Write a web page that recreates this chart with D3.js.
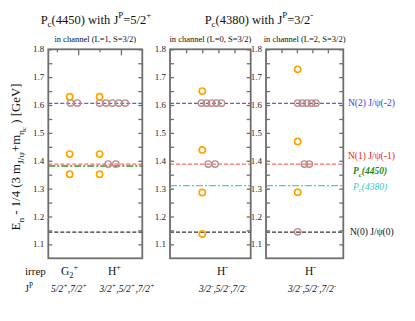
<!DOCTYPE html>
<html><head><meta charset="utf-8">
<script src="https://cdn.jsdelivr.net/npm/d3@7"></script>
<style>body{margin:0;background:#fff}svg{display:block}</style>
</head><body>
<svg id="c" width="415" height="321"></svg>
<script>
// ---- data ----
const yTickValues = [1.1, 1.2, 1.3, 1.4, 1.5, 1.6, 1.7, 1.8];
const refNames = ["N(2) J/ψ(-2)", "N(1) J/ψ(-1)", "Pc(4450)", "Pc(4380)", "N(0) J/ψ(0)"];
const refValues = [1.606, 1.388, 1.381, 1.311, 1.144];
// which panels each reference line spans
const refPanels = [[0,1,2],[0,1,2],[0],[1,2],[0,1,2]];
// panel 1: G2+ at x=0.8, H+ at x=1.5..2.1
const orange1 = [[0.8,1.630],[0.8,1.424],[0.8,1.352],[1.5,1.630],[1.5,1.424],[1.5,1.352]];
const brown1 = [[0.82,1.607],[0.98,1.607],[1.5,1.607],[1.65,1.607],[1.8,1.607],[1.95,1.607],[2.1,1.607],[1.7,1.388],[1.88,1.388]];
// panel 2: H- (L=0)
const orange2 = [[2.0,1.650],[2.0,1.439],[2.0,1.286],[2.0,1.137]];
const brown2 = [[1.95,1.607],[2.26,1.607],[2.57,1.607],[2.88,1.607],[3.19,1.607],[2.37,1.388],[2.79,1.388]];
// panel 3: H- (L=2)
const orange3 = [[2.05,1.728],[2.05,1.469],[2.05,1.287]];
const brown3 = [[2.05,1.607],[2.35,1.607],[2.65,1.607],[2.95,1.607],[3.23,1.607],[2.48,1.388],[2.8,1.388],[2.05,1.145]];
const subtitles = ["in channel (L=1, S=3/2)", "in channel (L=0, S=3/2)", "in channel (L=2, S=3/2)"];

// ---- layout ----
const svg = d3.select("#c");
const serif = "'Liberation Serif','DejaVu Serif',serif";
const y = d3.scaleLinear().domain([1.05, 1.8]).range([258.3, 49.3]);
const panels = [
  {range:[48.3,142.3], domain:[0.3,2.5], major:[1,2], minor:[0.5,1.5], orange:orange1, brown:brown1},
  {range:[170,250.7], domain:[0,5], major:[2,4], minor:[1,3], orange:orange2, brown:brown2},
  {range:[266,343.3], domain:[0,5], major:[2,4], minor:[1,3], orange:orange3, brown:brown3}
];
const refStyles = [
  {color:"#5a5aff", dash:"4,2", w:1.3},
  {color:"#ff6a6a", dash:"4,2", w:1.3},
  {color:"#2a9a2a", dash:"7,2,2,2", w:1.5},
  {color:"#3cd6c6", dash:"7,2,2,2", w:1.2},
  {color:"#333", dash:"4,2", w:1.1}
];

function rich(sel, parts, size) {
  let cur = 0;
  parts.forEach(([t, m, style]) => {
    let target = 0, fs = size;
    if (m === "sub") { target = size*0.3; fs = size*0.72; }
    if (m === "sup") { target = -size*0.42; fs = size*0.72; }
    if (m === "subsub") { target = size*0.5; fs = size*0.55; }
    const ts = sel.append("tspan").attr("dy", target - cur).attr("font-size", fs).text(t);
    if (style) ts.attr("font-style", style);
    cur = target;
  });
}

panels.forEach((p, i) => {
  const x = d3.scaleLinear().domain(p.domain).range(p.range);
  const g = svg.append("g");
  refValues.forEach((v, k) => {
    if (!refPanels[k].includes(i)) return;
    const s = refStyles[k];
    g.append("line").attr("x1", p.range[0]).attr("x2", p.range[1])
      .attr("y1", y(v)).attr("y2", y(v))
      .attr("stroke", s.color).attr("stroke-width", s.w).attr("stroke-dasharray", s.dash);
  });
  const fc = "#6e6e6e";
  g.append("rect").attr("x", p.range[0]).attr("y", y(1.8))
    .attr("width", p.range[1]-p.range[0]).attr("height", y(1.05)-y(1.8))
    .attr("fill", "none").attr("stroke", fc).attr("stroke-width", 1.8);
  const yl = d3.axisRight(y).tickValues(d3.range(1.1, 1.81, 0.05)).tickSize(4).tickFormat("");
  const yr = d3.axisLeft(y).tickValues(d3.range(1.1, 1.81, 0.05)).tickSize(4).tickFormat("");
  [[yl, p.range[0]], [yr, p.range[1]]].forEach(([ax, xx]) => {
    const a = g.append("g").attr("transform", `translate(${xx},0)`).call(ax);
    a.select(".domain").remove();
    a.selectAll("line").attr("stroke", fc).attr("stroke-width", 1.3);
  });
  g.selectAll(".yl").data(yTickValues).join("text")
    .attr("x", p.range[0]-4).attr("y", d => y(d)+3)
    .attr("text-anchor", "end").attr("font-family", serif).attr("font-size", 9)
    .attr("fill", "#222").text(d => d.toFixed(1));
  const tMaj = d3.axisBottom(x).tickValues(p.major).tickSize(i===0?6:4).tickFormat("");
  const tMin = d3.axisBottom(x).tickValues(p.minor).tickSize(i===0?3:4).tickFormat("");
  [tMaj, tMin].forEach(ax => {
    const a = g.append("g").attr("transform", `translate(0,${y(1.8)})`).call(ax);
    a.select(".domain").remove();
    a.selectAll("line").attr("stroke", fc).attr("stroke-width", 1.3);
  });
  svg.append("text").attr("x", (p.range[0]+p.range[1])/2).attr("y", 42)
    .attr("text-anchor", "middle").attr("font-family", serif).attr("font-size", 8.5)
    .attr("fill", "#111").text(subtitles[i]);
  g.selectAll(".b").data(p.brown).join("circle")
    .attr("cx", d => x(d[0])).attr("cy", d => y(d[1])).attr("r", 3.2)
    .attr("fill", "none").attr("stroke", "#bc8a8a").attr("stroke-width", 1.4);
  g.selectAll(".o").data(p.orange).join("circle")
    .attr("cx", d => x(d[0])).attr("cy", d => y(d[1])).attr("r", 3.1)
    .attr("fill", "none").attr("stroke", "#ffa500").attr("stroke-width", 1.7);
});

const t1 = svg.append("text").attr("x", 96).attr("y", 23.5).attr("text-anchor", "middle")
  .attr("font-family", serif).attr("font-size", 12.5).attr("fill", "#111");
rich(t1, [["P","n"],["c","sub"],["(4450) with J","n"],["P","sup"],["=5/2","n"],["+","sup"]], 12.5);
const t2 = svg.append("text").attr("x", 259).attr("y", 23.5).attr("text-anchor", "middle")
  .attr("font-family", serif).attr("font-size", 12.5).attr("fill", "#111");
rich(t2, [["P","n"],["c","sub"],["(4380) with J","n"],["P","sup"],["=3/2","n"],["-","sup"]], 12.5);

const ylab = svg.append("text").attr("transform", "translate(20,157) rotate(-90)")
  .attr("text-anchor", "middle").attr("font-family", serif).attr("font-size", 12.8).attr("fill", "#111");
rich(ylab, [["E","n"],["n","sub"],[" - 1/4 (3 m","n"],["J/ψ","sub"],["+m","n"],["η","sub"],["c","subsub"],[" )  [GeV]","n"]], 12.8);

const labelFont = 9.5;
const rl = [
  {k:0, x:348, dy:3, parts:[["N(2) J/ψ(-2)","n"]], color:"#3a3aee"},
  {k:1, x:348, dy:-5.5, parts:[["N(1) J/ψ(-1)","n"]], color:"#ee2222"},
  {k:2, x:353, dy:8, parts:[["P","n"],["c","sub"],["(4450)","n"]], color:"#1a8a1a", bold:true},
  {k:3, x:353, dy:4, parts:[["P","n"],["c","sub"],["(4380)","n"]], color:"#30d0c0"},
  {k:4, x:350, dy:3, parts:[["N(0) J/ψ(0)","n"]], color:"#111"}
];
rl.forEach(r => {
  const t = svg.append("text").attr("x", r.x).attr("y", y(refValues[r.k]) + r.dy)
    .attr("font-family", serif).attr("font-size", labelFont).attr("fill", r.color);
  if (r.bold || r.k === 3) t.attr("font-style", "italic");
  if (r.bold) t.attr("font-weight", "bold");
  rich(t, r.parts, labelFont);
});

function btxt(x, yy, parts, size, anchor, italic) {
  const t = svg.append("text").attr("x", x).attr("y", yy).attr("text-anchor", anchor || "start")
    .attr("font-family", serif).attr("font-size", size).attr("fill", "#111");
  if (italic) t.attr("font-style", "italic");
  rich(t, parts, size);
}
btxt(25, 275, [["irrep","n"]], 11);
btxt(61, 275, [["G","n"],["2","sub"],["+","sup"]], 11.5);
btxt(108, 275, [["H","n"],["+","sup"]], 11.5);
btxt(217, 275, [["H","n"],["-","sup"]], 11.5);
btxt(305, 275, [["H","n"],["-","sup"]], 11.5);
btxt(25, 292, [["J","n"],["P","sup"]], 10);
btxt(69, 292, [["5/2","n"],["+","sup"],[",7/2","n"],["+","sup"]], 9.5, "middle", true);
btxt(127, 292, [["3/2","n"],["+","sup"],[",5/2","n"],["+","sup"],[",7/2","n"],["+","sup"]], 9.5, "middle", true);
btxt(223, 292, [["3/2","n"],["-","sup"],[",5/2","n"],["-","sup"],[",7/2","n"],["-","sup"]], 9.5, "middle", true);
btxt(312, 292, [["3/2","n"],["-","sup"],[",5/2","n"],["-","sup"],[",7/2","n"],["-","sup"]], 9.5, "middle", true);
</script>
</body></html>
